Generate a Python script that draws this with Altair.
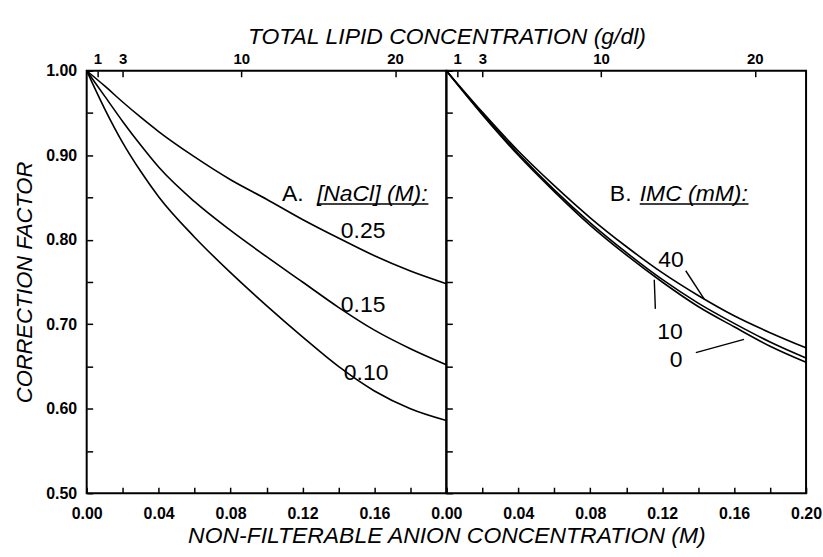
import altair as alt
import pandas as pd

# ---------------- data ----------------
# Panel A: correction factor vs non-filterable anion concentration, for three [NaCl]
anion_a = [0.00, 0.01, 0.02, 0.03, 0.04, 0.06, 0.08, 0.10, 0.12, 0.14, 0.16, 0.18, 0.20]
nacl_025 = [1.000, 0.982, 0.963, 0.945, 0.928, 0.898, 0.871, 0.848, 0.824, 0.802, 0.781, 0.763, 0.748]
nacl_015 = [1.000, 0.970, 0.940, 0.912, 0.886, 0.845, 0.811, 0.780, 0.750, 0.720, 0.693, 0.671, 0.652]
nacl_010 = [1.000, 0.955, 0.915, 0.881, 0.851, 0.803, 0.761, 0.722, 0.685, 0.650, 0.621, 0.600, 0.586]
nacl_names = ["0.25", "0.15", "0.10"]

# Panel B: correction factor for three IMC concentrations
anion_b = [0.00, 0.02, 0.04, 0.06, 0.08, 0.10, 0.12, 0.14, 0.16, 0.18, 0.20]
imc_40 = [1.000, 0.951, 0.905, 0.864, 0.826, 0.792, 0.761, 0.734, 0.710, 0.690, 0.672]
imc_10 = [1.000, 0.949, 0.902, 0.859, 0.820, 0.785, 0.753, 0.725, 0.701, 0.679, 0.660]
imc_0 = [1.000, 0.948, 0.900, 0.857, 0.817, 0.782, 0.750, 0.721, 0.697, 0.674, 0.655]
imc_names = ["40", "10", "0"]

# top axis: total lipid concentration (g/dl) and the anion position of each tick
lipid_labels = ["1", "3", "10", "20"]
lipid_at_anion = [0.006, 0.020, 0.086, 0.1715]

x_ticks = [0.00, 0.02, 0.04, 0.06, 0.08, 0.10, 0.12, 0.14, 0.16, 0.18, 0.20]
y_ticks = [0.50, 0.55, 0.60, 0.65, 0.70, 0.75, 0.80, 0.85, 0.90, 0.95, 1.00]

# annotations (text, anion x, correction-factor y)
a_head = ("A.", 0.1086, 0.8459)
a_head_it = ("[NaCl] (M):", 0.1280, 0.8459, 0.1900)
a_nums = [("0.25", 0.1537, 0.8015), ("0.15", 0.1537, 0.7143), ("0.10", 0.1554, 0.6340)]
b_head = ("B.", 0.0909, 0.8459)
b_head_it = ("IMC (mM):", 0.1075, 0.8459, 0.1680)
b_nums = [("40", 0.1249, 0.7673), ("10", 0.1244, 0.6828), ("0", 0.1277, 0.6494)]
b_leaders = [(0.1331, 0.7633, 0.1433, 0.7300),
             (0.1156, 0.7527, 0.1162, 0.7182),
             (0.1387, 0.6663, 0.1655, 0.6820)]

FONT = "Liberation Sans"
PW, PH = 361, 424


def long_df(xs, names, series):
    rows = []
    for name, ys in zip(names, series):
        for x, y in zip(xs, ys):
            rows.append({"x": x, "y": y, "s": name})
    return pd.DataFrame(rows)


df_a = long_df(anion_a, nacl_names, [nacl_025, nacl_015, nacl_010])
df_b = long_df(anion_b, imc_names, [imc_40, imc_10, imc_0])

xscale = alt.Scale(domain=[0, 0.2], nice=False, zero=False)
yscale = alt.Scale(domain=[0.5, 1.0], nice=False, zero=False)

top_expr = "''"
for lab, pos in zip(reversed(lipid_labels), reversed(lipid_at_anion)):
    top_expr = f"abs(datum.value - {pos}) < 0.0005 ? '{lab}' : ({top_expr})"

common_axis = dict(domain=False, grid=False, tickColor="black", tickWidth=1.5, tickSize=6,
                   offset=-6, labelFont=FONT, labelColor="black", labelFontWeight="bold",
                   labelFlush=False, labelOverlap=False, titleFont=FONT, titleColor="black",
                   titleFontStyle="italic", titleFontWeight="normal")


def bottom_axis(left):
    expr = ("(round(datum.value*100) % 4 == 0) && datum.value < 0.19 ? format(datum.value, '.2f') : ''"
            if left else
            "round(datum.value*100) % 4 == 0 ? format(datum.value, '.2f') : ''")
    kw = dict(common_axis)
    if left:
        kw.update(title="NON-FILTERABLE ANION CONCENTRATION (M)", titleX=PW, titleAlign="center",
                  titleFontSize=23, titlePadding=3)
    else:
        kw.update(title=None)
    return alt.Axis(orient="bottom", values=x_ticks, labelExpr=expr, labelFontSize=16,
                    labelPadding=12, **kw)


def top_axis(left):
    kw = dict(common_axis)
    if left:
        kw.update(title="TOTAL LIPID CONCENTRATION (g/dl)", titleX=PW, titleAlign="center",
                  titleFontSize=23, titlePadding=3)
    else:
        kw.update(title=None)
    return alt.Axis(orient="top", values=lipid_at_anion, labelExpr=top_expr, labelFontSize=15,
                    labelPadding=4, **kw)


def y_axis(left):
    kw = dict(common_axis)
    if left:
        kw.update(title="CORRECTION FACTOR", titleFontSize=22, titlePadding=9,
                  labelExpr="round(datum.value*100) % 10 == 0 ? format(datum.value, '.2f') : ''",
                  labelFontSize=16, labelPadding=10)
    else:
        kw.update(title=None, labels=False)
    return alt.Axis(orient="left", values=y_ticks, **kw)


def panel(df, head, head_it, nums, leaders, left):
    lines = alt.Chart(df).mark_line(color="black", strokeWidth=1.6, interpolate="monotone").encode(
        x=alt.X("x:Q", scale=xscale, axis=bottom_axis(left)),
        y=alt.Y("y:Q", scale=yscale, axis=y_axis(left)),
        detail="s:N",
    )
    top = alt.Chart(df).mark_line(opacity=0).encode(
        x=alt.X("x:Q", scale=xscale, axis=top_axis(left)),
        y=alt.Y("y:Q", scale=yscale, axis=None),
        detail="s:N",
    )
    noax_x = dict(scale=xscale, axis=None)
    noax_y = dict(scale=yscale, axis=None)
    head_df = pd.DataFrame([{"t": head[0], "x": head[1], "y": head[2]}])
    head_t = alt.Chart(head_df).mark_text(font=FONT, fontSize=23, align="left", baseline="alphabetic",
                                          color="black").encode(
        x=alt.X("x:Q", **noax_x), y=alt.Y("y:Q", **noax_y), text="t:N")
    it_df = pd.DataFrame([{"t": head_it[0], "x": head_it[1], "y": head_it[2], "x2": head_it[3]}])
    it_t = alt.Chart(it_df).mark_text(font=FONT, fontSize=23, fontStyle="italic", align="left",
                                      baseline="alphabetic", color="black").encode(
        x=alt.X("x:Q", **noax_x), y=alt.Y("y:Q", **noax_y), text="t:N")
    under = alt.Chart(it_df).mark_rule(color="black", strokeWidth=1.5, yOffset=3).encode(
        x=alt.X("x:Q", **noax_x), x2="x2:Q", y=alt.Y("y:Q", **noax_y))
    num_df = pd.DataFrame([{"t": t, "x": x, "y": y} for t, x, y in nums])
    num_t = alt.Chart(num_df).mark_text(font=FONT, fontSize=23, align="center", baseline="alphabetic",
                                        color="black").encode(
        x=alt.X("x:Q", **noax_x), y=alt.Y("y:Q", **noax_y), text="t:N")
    layers = [lines, top, head_t, it_t, under, num_t]
    if leaders:
        lead_df = pd.DataFrame([{"x": a, "y": b, "x2": c, "y2": d} for a, b, c, d in leaders])
        lead = alt.Chart(lead_df).mark_rule(color="black", strokeWidth=1.4).encode(
            x=alt.X("x:Q", **noax_x), y=alt.Y("y:Q", **noax_y), x2="x2:Q", y2="y2:Q")
        layers.append(lead)
    return alt.layer(*layers).resolve_axis(x="independent", y="independent").properties(
        width=PW, height=PH)


left = panel(df_a, a_head, a_head_it, a_nums, [], True)
right = panel(df_b, b_head, b_head_it, b_nums, b_leaders, False)

chart = alt.hconcat(left, right, spacing=0, bounds="flush").properties(
    padding={"left": 12, "top": 24, "right": 0, "bottom": 5},
    background="white",
).configure_view(stroke="black", strokeWidth=2)

chart.save("out.html", embed_options={"renderer": "svg", "actions": False})
